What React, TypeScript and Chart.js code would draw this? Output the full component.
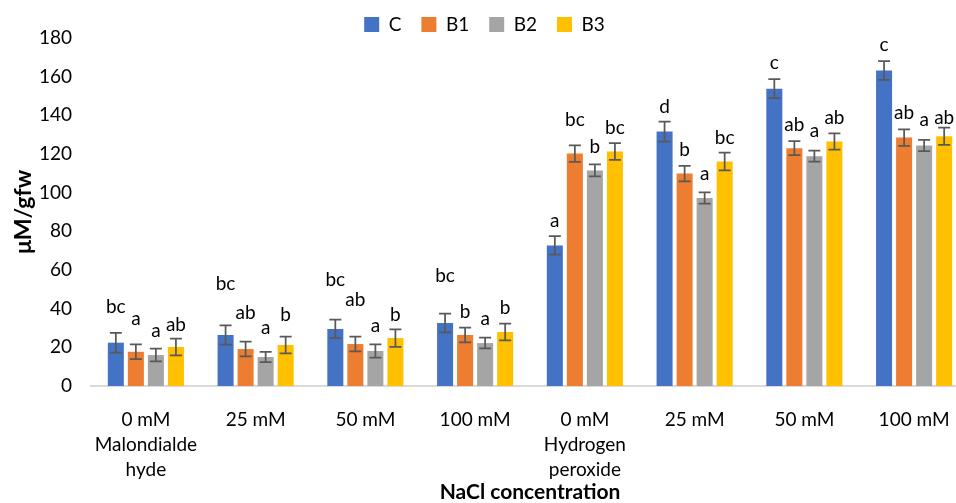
import React, { useEffect, useRef } from "react";
import { Chart, registerables } from "chart.js";

Chart.register(...registerables);

// ---- data ----
const categories: (string | string[])[] = [
  ["0 mM", "Malondialde", "hyde"],
  "25 mM",
  "50 mM",
  "100 mM",
  ["0 mM", "Hydrogen", "peroxide"],
  "25 mM",
  "50 mM",
  "100 mM",
];
const seriesNames = ["C", "B1", "B2", "B3"];

const valuesC = [22.4, 26.4, 29.5, 32.6, 72.7, 131.6, 153.8, 163.2];
const valuesB1 = [17.7, 19.1, 21.7, 26.4, 120.2, 109.9, 123.0, 128.5];
const valuesB2 = [16.0, 15.0, 18.1, 22.2, 111.5, 97.2, 118.9, 124.4];
const valuesB3 = [20.2, 21.2, 24.8, 27.9, 121.3, 116.1, 126.5, 129.2];

const errorsC = [5.1, 5.0, 4.8, 4.8, 4.8, 5.2, 4.9, 4.8];
const errorsB1 = [3.8, 3.8, 3.8, 3.8, 4.3, 4.0, 3.6, 4.3];
const errorsB2 = [3.3, 2.7, 3.4, 2.8, 3.1, 2.9, 2.9, 2.9];
const errorsB3 = [4.3, 4.3, 4.5, 4.3, 4.3, 4.6, 4.2, 4.5];

const lettersC = ["bc", "bc", "bc", "bc", "a", "d", "c", "c"];
const lettersB1 = ["a", "ab", "ab", "b", "bc", "b", "ab", "ab"];
const lettersB2 = ["a", "a", "a", "a", "b", "a", "a", "a"];
const lettersB3 = ["ab", "b", "b", "b", "bc", "bc", "ab", "ab"];

// height (in axis units) of each letter's baseline
const letterLevelC = [37.9, 49.8, 51.9, 53.9, 82.5, 141.1, 163.9, 173.2];
const letterLevelB1 = [31.6, 34.9, 41.5, 35.3, 134.7, 119.1, 132.1, 138.1];
const letterLevelB2 = [25.4, 27.0, 28.0, 31.6, 120.5, 106.8, 128.8, 134.5];
const letterLevelB3 = [28.7, 33.7, 33.7, 37.0, 130.3, 125.2, 135.5, 135.5];

const yTicks = [0, 20, 40, 60, 80, 100, 120, 140, 160, 180];

const allValues = [valuesC, valuesB1, valuesB2, valuesB3];
const allErrors = [errorsC, errorsB1, errorsB2, errorsB3];
const allLetters = [lettersC, lettersB1, lettersB2, lettersB3];
const allLetterLevels = [letterLevelC, letterLevelB1, letterLevelB2, letterLevelB3];
const colors = ["#4472C4", "#ED7D31", "#A5A5A5", "#FFC000"];

const FONT = "Lato, 'Open Sans', sans-serif";

const errorBarPlugin = {
  id: "errorBarsAndLetters",
  afterDatasetsDraw(chart: any) {
    const ctx = chart.ctx;
    const yScale = chart.scales.y;
    ctx.save();
    chart.data.datasets.forEach((_ds: any, di: number) => {
      const meta = chart.getDatasetMeta(di);
      meta.data.forEach((bar: any, i: number) => {
        const v = allValues[di][i];
        const e = allErrors[di][i];
        const x = bar.x;
        const yt = yScale.getPixelForValue(v + e);
        const yb = yScale.getPixelForValue(v - e);
        ctx.strokeStyle = "#595959";
        ctx.lineWidth = 1.75;
        ctx.beginPath();
        ctx.moveTo(x, yt);
        ctx.lineTo(x, yb);
        ctx.moveTo(x - 6, yt);
        ctx.lineTo(x + 6, yt);
        ctx.moveTo(x - 6, yb);
        ctx.lineTo(x + 6, yb);
        ctx.stroke();
        ctx.fillStyle = "#000";
        ctx.font = `19px ${FONT}`;
        ctx.textAlign = "center";
        ctx.textBaseline = "alphabetic";
        ctx.fillText(allLetters[di][i], x, yScale.getPixelForValue(allLetterLevels[di][i]));
      });
    });
    ctx.restore();
  },
};

export default function App() {
  const ref = useRef<HTMLCanvasElement>(null);
  useEffect(() => {
    const chart = new Chart(ref.current as HTMLCanvasElement, {
      type: "bar",
      data: {
        labels: categories,
        datasets: seriesNames.map((name, i) => ({
          label: name,
          data: allValues[i],
          backgroundColor: colors[i],
          borderWidth: 0,
          categoryPercentage: 0.73,
          barPercentage: 0.8,
        })),
      },
      options: {
        animation: false,
        responsive: false,
        layout: { padding: { top: -5, left: 0, right: 11, bottom: 0 } },
        plugins: {
          legend: {
            position: "top",
            maxHeight: 43,
            labels: {
              boxWidth: 15,
              boxHeight: 15,
              padding: 20,
              color: "#000",
              font: { family: FONT, size: 19 },
            },
          },
          tooltip: { enabled: false },
        },
        scales: {
          x: {
            grid: { display: false, drawTicks: false },
            border: { display: true, color: "#d9d9d9", width: 2 },
            ticks: {
              color: "#000",
              padding: 21,
              maxRotation: 0,
              autoSkip: false,
              font: { family: FONT, size: 19, lineHeight: 25 / 19 },
            },
            title: {
              display: true,
              text: "NaCl concentration",
              color: "#000",
              font: { family: FONT, size: 21, weight: "bold", lineHeight: 1 },
              padding: { top: -1, bottom: 0 },
            },
            afterFit: (scale: any) => {
              scale.height = 117;
            },
          },
          y: {
            min: 0,
            max: 180,
            afterBuildTicks: (scale: any) => {
              scale.ticks = yTicks.map((v) => ({ value: v }));
            },
            grid: { display: false, drawTicks: false },
            border: { display: false },
            ticks: {
              color: "#000",
              padding: 19,
              font: { family: FONT, size: 19 },
            },
            title: {
              display: true,
              text: "μM/gfw",
              color: "#000",
              font: { family: FONT, size: 23, weight: "bold", lineHeight: 1.2 },
              padding: { top: 10, bottom: 0 },
            },
            afterFit: (scale: any) => {
              scale.width = 91;
            },
          },
        },
      },
      plugins: [errorBarPlugin],
    } as any);
    return () => chart.destroy();
  }, []);
  return (
    <div
      style={{
        position: "fixed",
        left: 0,
        top: 0,
        width: 956,
        height: 503,
        overflow: "hidden",
        background: "#fff",
      }}
    >
      <div style={{ width: 980, height: 503 }}>
        <canvas ref={ref} width={980} height={503} style={{ display: "block" }} />
      </div>
    </div>
  );
}
